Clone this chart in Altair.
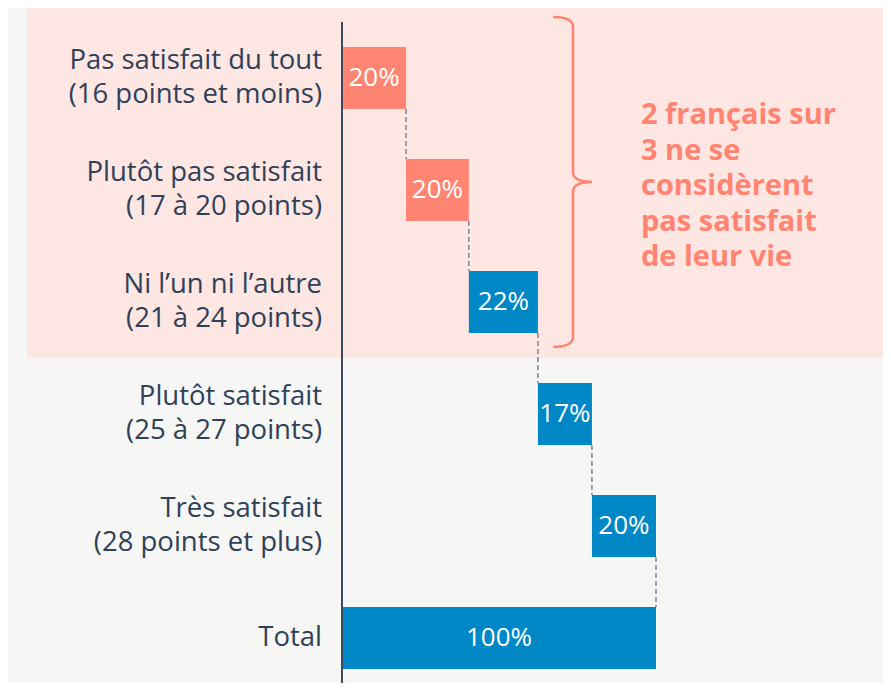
import altair as alt
import pandas as pd

# ---- data ----
row_labels = [
    "Pas satisfait du tout\n(16 points et moins)",
    "Plutôt pas satisfait\n(17 à 20 points)",
    "Ni l’un ni l’autre\n(21 à 24 points)",
    "Plutôt satisfait\n(25 à 27 points)",
    "Très satisfait\n(28 points et plus) ",
    "Total",
]
values = [20.4, 20.0, 22.0, 17.2, 20.4]
value_labels = ["20%", "20%", "22%", "17%", "20%", "100%"]
groups = ["neg", "neg", "pos", "pos", "pos", "pos"]
annotation = ["2 français sur", "3 ne se", "considèrent", "pas satisfait", "de leur vie"]

CORAL = "#FF8472"
BLUE = "#0087C6"
PINK = "#FEE6E2"
NAVY = "#2F4159"
HALF = 0.277  # half bar thickness, in row units
LH = 34       # label line height (px)

# ---- tables ----
rows = []
cum = 0.0
for i, lab in enumerate(row_labels):
    if i == len(row_labels) - 1:
        start, end = 0.0, cum
    else:
        start, end = cum, cum + values[i]
        cum = end
    rows.append(dict(idx=i, label=lab, multi="\n" in lab, start=start, end=end,
                     mid=(start + end) / 2, top=i - HALF, bot=i + HALF,
                     text=value_labels[i], grp=groups[i]))
df = pd.DataFrame(rows)

conn = pd.DataFrame([
    dict(x=float(df.loc[i, "end"]), a=i + HALF, b=i + 1 - HALF) for i in range(len(row_labels) - 1)
])

note_df = pd.DataFrame([dict(t="\n".join(annotation))])

xscale = alt.Scale(domain=[0, 100], range=[334, 648])
yscale = alt.Scale(domain=[0, 5], range=[70, 630])

band = alt.Chart(note_df).mark_rect(color=PINK).encode(
    x=alt.value(19), x2=alt.value(883), y=alt.value(0), y2=alt.value(350)
)

axis_line = alt.Chart(note_df).mark_rule(color="#3B4A5E", strokeWidth=2).encode(
    x=alt.value(334), y=alt.value(14), y2=alt.value(683)
)

brace_path = ("M-0.12,-1 Q0,-1 0,-0.94 L0,-0.06 Q0,0 0.115,0 "
              "Q0,0 0,0.06 L0,0.94 Q0,1 -0.12,1")
brace = alt.Chart(note_df).mark_point(shape=brace_path, size=330 ** 2, filled=False,
                                      strokeWidth=2.5, color=CORAL, opacity=1).encode(
    x=alt.value(565), y=alt.value(174)
)

bars = alt.Chart(df).mark_rect().encode(
    x=alt.X("start:Q", scale=xscale, axis=None),
    x2="end:Q",
    y=alt.Y("top:Q", scale=yscale, axis=None),
    y2="bot:Q",
    color=alt.Color("grp:N", scale=alt.Scale(domain=["neg", "pos"], range=[CORAL, BLUE]), legend=None),
)

bar_text = alt.Chart(df).mark_text(color="white", fontSize=26, font="Open Sans",
                                   baseline="middle").encode(
    x=alt.X("mid:Q", scale=xscale, axis=None),
    y=alt.Y("idx:Q", scale=yscale, axis=None),
    text="text:N",
)

label_style = dict(align="right", baseline="middle", lineBreak="\n", lineHeight=LH,
                   fontSize=27.5, font="Open Sans", color=NAVY)

left_multi = alt.Chart(df).transform_filter("datum.multi").mark_text(
    dy=-LH / 2, **label_style).encode(
    x=alt.value(314),
    y=alt.Y("idx:Q", scale=yscale, axis=None),
    text="label:N",
)
left_single = alt.Chart(df).transform_filter("!datum.multi").mark_text(**label_style).encode(
    x=alt.value(314),
    y=alt.Y("idx:Q", scale=yscale, axis=None),
    text="label:N",
)

connectors = alt.Chart(conn).mark_rule(color="#5A6B82", strokeWidth=1.2, strokeDash=[5, 3]).encode(
    x=alt.X("x:Q", scale=xscale, axis=None),
    y=alt.Y("a:Q", scale=yscale, axis=None),
    y2="b:Q",
)

note = alt.Chart(note_df).mark_text(align="left", baseline="alphabetic", lineBreak="\n",
                                    lineHeight=35.5, fontSize=29, fontWeight="bold",
                                    font="Open Sans", color=CORAL).encode(
    x=alt.value(633), y=alt.value(116), text="t:N"
)

chart = alt.layer(band, connectors, bars, bar_text, left_multi, left_single,
                  axis_line, brace, note).properties(
    width=875, height=675, background="#F6F6F4", padding=0,
    autosize=alt.AutoSizeParams(type="none"),
).configure_view(stroke=None)

chart.save("out.html", embed_options={"renderer": "svg", "actions": False})
